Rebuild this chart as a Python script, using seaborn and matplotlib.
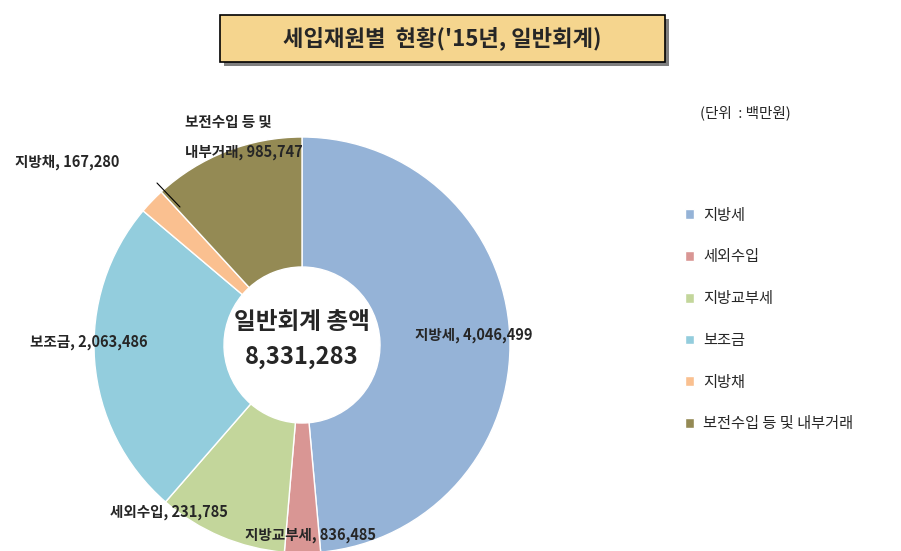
import matplotlib
matplotlib.use("Agg")
import matplotlib.pyplot as plt
import seaborn as sns
from matplotlib.patches import Rectangle

sns.set_theme(style="white", font="Noto Sans CJK KR")
plt.rcParams["font.family"] = "Noto Sans CJK KR"

categories = ["지방세", "세외수입", "지방교부세", "보조금", "지방채", "보전수입 등 및 내부거래"]
values = [4046499, 231785, 836485, 2063486, 167280, 985747]
colors = ["#95B3D7", "#D99694", "#C3D69B", "#93CDDD", "#FAC090", "#948A54"]
total_label = "8,331,283"

W, H = 901, 551
fig = plt.figure(figsize=(9.01, 5.51), dpi=100)
ax = fig.add_axes([0, 0, 1, 1])
ax.set_xlim(0, W); ax.set_ylim(0, H); ax.set_aspect("equal"); ax.axis("off")
Y = lambda y: H - y

cx, cy, R = 302, 345, 208
wedges, _ = ax.pie(values, colors=colors, startangle=90, counterclock=False,
                   center=(cx, Y(cy)), radius=R, frame=True,
                   wedgeprops=dict(width=R - 78, edgecolor="white", linewidth=1))
ax.set_xlim(0, W); ax.set_ylim(0, H); ax.axis("off")

# title box
ax.add_patch(Rectangle((224, Y(66)), 445, 47, facecolor="#7f7f7f", edgecolor="none"))
ax.add_patch(Rectangle((220, Y(62)), 445, 47, facecolor="#F5D58E", edgecolor="black", lw=1.2))
ax.text(442, Y(38), "세입재원별  현황('15년, 일반회계)", ha="center", va="center", fontsize=16, fontweight="bold")

ax.text(cx, Y(322), "일반회계 총액", ha="center", va="center", fontsize=17, fontweight="bold")
ax.text(cx, Y(357), total_label, ha="center", va="center", fontsize=17, fontweight="bold")

lab = dict(fontsize=10.5, fontweight="bold", va="center")
ax.text(415, Y(335), f"지방세, {values[0]:,}", ha="left", **lab)
ax.text(245, Y(535), f"지방교부세, {values[2]:,}", ha="left", **lab)
ax.text(110, Y(512), f"세외수입, {values[1]:,}", ha="left", **lab)
ax.text(30, Y(342), f"보조금, {values[3]:,}", ha="left", **lab)
ax.text(15, Y(162), f"지방채, {values[4]:,}", ha="left", **lab)
ax.plot([157, 180], [Y(183), Y(207)], color="black", lw=0.8)
ax.text(185, Y(122), "보전수입 등 및", ha="left", **lab)
ax.text(185, Y(152), f"내부거래, {values[5]:,}", ha="left", **lab)

ax.text(700, Y(113), "(단위  : 백만원)", ha="left", va="center", fontsize=10.5)
fig.legend(wedges, categories, loc="upper left", bbox_to_anchor=(0.745, 0.65),
           frameon=False, fontsize=11, labelspacing=1.62, handlelength=0.6,
           handleheight=0.6, handletextpad=0.6)

fig.savefig("out.png", dpi=100)
